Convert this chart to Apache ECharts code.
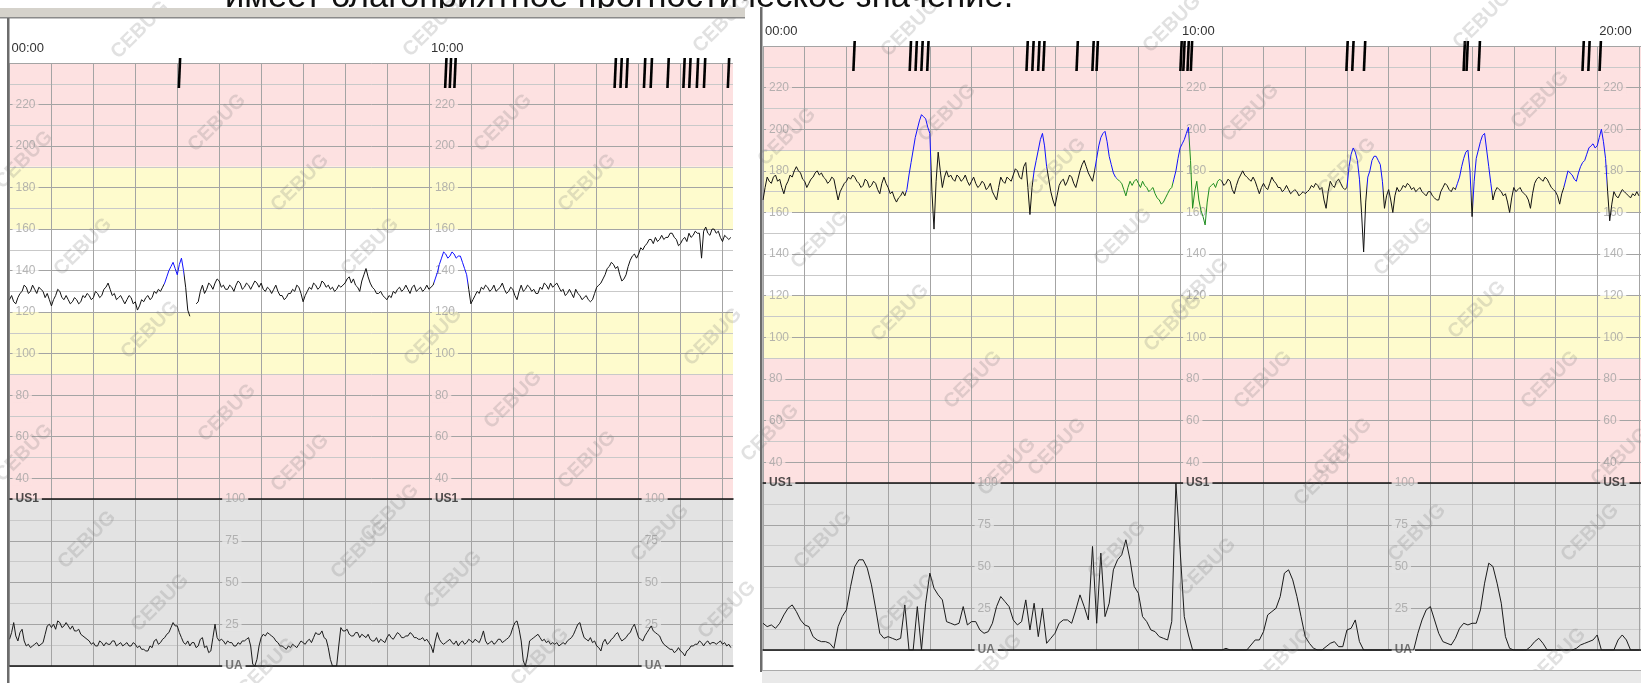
<!DOCTYPE html>
<html>
<head>
<meta charset="utf-8">
<title>CTG</title>
<script src="https://cdn.jsdelivr.net/npm/echarts@6/dist/echarts.min.js"></script>
<style>
  html, body { margin: 0; padding: 0; background: #fff; }
  #chart { width: 1641px; height: 683px; }
</style>
</head>
<body>
<div id="chart"></div>
<script>
// sampling steps, minutes
var FINE = 0.05;
var COARSE = 0.1;

// left strip: fetal heart rate (bpm), 0 .. 17.2 min, every 0.05 min
var leftFhr = [
  126,128,125,124,127,129,130,133,132,129,130,133,131,129,132,131,130,127,129,126,
  123,126,128,131,130,127,126,128,126,124,125,127,126,124,125,128,127,129,128,126,
  127,130,129,127,128,131,132,134,131,128,129,126,127,128,126,124,126,128,127,124,
  125,121,123,126,125,127,128,126,127,130,129,131,130,132,134,137,140,142,144,141,
  138,143,146,140,132,121,118,null,null,124,125,130,133,129,131,134,133,131,134,136,
  135,132,133,131,131,133,132,130,133,135,134,131,132,134,133,131,133,135,134,132,
  134,131,130,132,131,129,131,133,130,128,128,126,127,129,129,131,130,133,132,129,
  125,128,130,132,131,134,133,131,132,135,134,132,133,131,132,130,131,133,132,133,
  134,136,137,134,136,133,132,130,135,138,141,137,134,132,131,129,129,130,128,127,
  126,128,127,130,129,131,132,130,131,133,131,129,132,133,130,131,132,130,131,133,
  131,132,133,136,139,143,146,149,148,146,147,149,148,146,147,147,144,141,138,131,
  124,126,128,130,129,132,131,133,132,130,131,133,130,131,132,134,131,129,130,132,
  131,128,126,130,133,130,131,133,132,130,131,129,129,132,131,134,133,131,134,132,
  133,134,132,130,131,128,129,131,129,127,131,129,128,126,127,128,126,125,126,129,
  132,133,134,136,138,141,142,144,143,141,142,138,135,136,138,142,145,147,148,146,
  148,151,150,152,153,155,155,153,156,154,155,157,155,156,156,158,158,156,155,152,
  153,155,156,154,158,156,157,159,158,158,146,159,161,158,157,160,160,158,159,156,
  154,157,156,155,156
];
// left strip: uterine activity, 0 .. 17.2 min, every 0.05 min
var leftUa = [
  16,20,26,18,15,20,22,15,12,13,11,12,13,14,12,13,14,19,24,25,
  23,25,22,27,26,23,24,26,24,22,24,21,21,22,19,18,17,16,15,13,
  14,12,12,15,14,12,14,13,13,15,15,12,13,14,12,13,14,12,12,14,
  13,11,12,10,10,9,9,12,11,15,16,13,14,16,17,19,20,23,26,24,
  24,20,17,14,13,15,12,14,14,11,12,16,17,11,12,8,9,17,25,17,
  15,16,15,13,15,14,14,12,12,14,13,15,15,16,17,12,1,0,4,12,
  17,19,18,20,19,18,17,15,14,12,12,11,10,12,11,13,12,11,13,15,
  14,13,15,16,14,17,20,19,19,21,17,16,11,4,0,0,0,12,23,21,
  21,22,19,18,18,20,20,17,19,18,17,19,16,15,15,17,14,16,15,14,
  17,19,17,16,18,20,19,17,17,18,18,20,19,17,17,16,16,17,15,16,
  14,12,8,15,20,16,14,13,14,15,16,14,13,15,12,14,15,13,14,16,
  15,14,16,15,14,17,21,15,13,14,15,13,14,16,16,14,15,16,17,19,
  23,26,27,22,15,3,0,6,15,16,17,18,19,17,15,16,14,15,13,14,
  13,14,12,13,14,13,15,16,17,19,22,25,26,21,17,16,15,17,14,15,
  12,11,9,14,16,13,14,16,17,19,20,17,15,16,17,19,20,23,25,21,
  17,16,15,18,20,22,24,21,20,19,18,15,13,12,11,10,10,8,9,11,
  9,8,6,9,10,12,12,13,13,15,14,12,14,15,13,14,14,13,14,15,
  13,14,12,13,11
];
// right strip: fetal heart rate (bpm), 0 .. 21.0 min, every 0.05 min
var rightFhr = [
  166,172,177,175,174,177,178,175,176,172,169,173,175,178,177,180,182,180,179,176,
  175,172,174,176,177,179,180,178,179,177,176,174,175,177,176,171,166,170,172,174,
  175,177,176,178,177,175,174,172,173,176,175,172,173,175,174,171,169,174,177,174,
  172,169,170,167,165,167,168,170,168,171,178,184,190,196,200,204,207,206,205,201,
  198,170,152,175,189,180,172,177,180,177,178,176,175,178,177,175,176,178,175,173,
  175,177,174,172,173,175,174,171,172,174,170,168,166,172,177,175,174,177,176,175,
  178,181,180,177,176,182,184,172,159,172,180,185,190,195,198,192,182,176,170,166,
  163,168,173,175,176,173,175,178,177,174,172,176,180,183,185,182,179,177,175,180,
  186,192,196,198,199,194,187,183,179,177,176,175,174,171,168,172,175,173,175,176,
  174,172,175,173,172,170,171,172,169,167,166,164,165,167,169,171,172,176,180,186,
  191,193,195,198,201,185,162,170,175,166,161,158,154,165,172,173,174,172,175,176,
  175,173,174,176,175,171,169,173,176,178,180,178,177,176,175,177,175,172,169,172,
  174,172,171,174,177,175,174,172,172,170,171,173,171,169,170,171,170,168,169,170,
  169,170,171,173,172,174,173,171,172,166,162,170,175,173,172,175,176,174,172,171,
  172,182,188,191,189,185,176,160,141,165,177,180,185,187,187,185,183,175,162,168,
  171,166,160,168,172,170,171,173,172,174,173,171,172,170,171,172,170,169,168,170,
  170,168,167,166,166,170,172,174,173,171,170,172,171,174,177,182,186,189,190,180,
  158,175,186,190,194,197,198,190,182,174,166,170,172,171,170,168,169,165,160,167,
  172,170,171,172,170,169,168,166,162,169,174,176,177,176,175,177,176,174,172,171,
  170,168,164,169,172,176,180,179,178,176,175,179,182,184,185,188,191,192,193,191,
  192,196,200,194,186,170,156,164,170,168,167,169,171,170,169,168,167,169,168,170,
  168
];
// right strip: uterine activity, 0 .. 21.0 min, every 0.1 min
var rightUa = [
  16,14,15,13,16,21,25,27,23,18,
  15,14,8,6,5,5,4,1,14,20,
  24,38,50,54,54,49,39,25,10,7,
  8,7,6,7,27,0,0,26,0,28,
  46,37,33,30,17,16,15,16,26,15,
  17,17,12,10,11,16,26,32,29,26,
  18,15,17,30,12,28,8,25,4,7,
  10,16,18,18,16,24,33,26,18,62,
  16,58,20,28,48,54,57,66,54,38,
  34,20,17,12,11,8,7,6,17,100,
  60,20,9,0,0,0,0,0,0,0,
  0,1,0,0,0,0,0,3,6,6,
  11,21,23,25,32,46,48,42,32,20,
  8,4,1,0,0,2,4,5,2,2,
  12,13,18,5,0,0,0,0,0,0,
  0,0,0,0,0,0,0,10,18,24,
  26,18,10,5,4,3,7,13,16,15,
  16,16,24,40,52,50,40,28,8,1,
  0,0,0,0,2,5,7,4,0,0,
  0,0,0,0,0,1,3,4,5,6,
  9,0,0,0,0,6,9,6,0,0,
  0
];

// trace segments drawn in colour (minutes)
var leftBlue = [[3.68, 4.15], [10.12, 10.92]];
var rightBlue = [[3.44, 4.03], [6.48, 6.82], [7.95, 8.48], [9.84, 10.22], [14.0, 14.32],
                 [14.47, 14.87], [16.62, 16.97], [17.03, 17.48], [19.2, 20.23]];
var rightGreen = [[8.48, 9.84], [10.22, 10.98]];

// movement marks at the top of each strip (minutes)
var leftMarks = [4.03, 10.38, 10.49, 10.6, 14.42, 14.56, 14.7, 15.12, 15.28, 15.68,
                 16.06, 16.2, 16.38, 16.55, 17.12];
var rightMarks = [2.16, 3.51, 3.65, 3.79, 3.93, 6.31, 6.45, 6.59, 6.71, 7.51, 7.89, 7.99,
                  10.0, 10.07, 10.17, 10.25, 13.98, 14.12, 14.4, 16.79, 16.86, 17.15,
                  19.64, 19.78, 20.05];

// scale labels printed on the paper
var fhrTickLabels = [220, 200, 180, 160, 140, 120, 100, 80, 60, 40];
var uaTickLabels = [100, 75, 50, 25];
var leftFhrLabelAt = [0, 10];
var rightFhrLabelAt = [0, 10, 20];
var uaLabelAt = [5, 15];

var CAPTION = 'имеет благоприятное прогностическое значение.';

var PINK = '#fde1e1', YELLOW = '#fefbcd', WHITE = '#ffffff', UAGRAY = '#e3e3e3';
var MAJOR = '#a4a4a4', MINOR = '#c9c9c9';
var FONT = '"Liberation Sans", Arial, sans-serif';

var fhrBands = [[190, 240, PINK], [160, 190, YELLOW], [120, 160, WHITE], [90, 120, YELLOW], [30, 90, PINK]];

function bandColor(v) {
  for (var i = 0; i < fhrBands.length; i++) {
    if (v >= fhrBands[i][0] && v <= fhrBands[i][1]) return fhrBands[i][2];
  }
  return WHITE;
}

function halfBg(top, bottom) {
  if (top === bottom) return top;
  return { type: 'linear', x: 0, y: 0, x2: 0, y2: 1, colorStops: [
    { offset: 0, color: top }, { offset: 0.5, color: top },
    { offset: 0.5, color: bottom }, { offset: 1, color: bottom }] };
}

function toPairs(arr, step) {
  return arr.map(function (v, i) {
    return [Math.round(i * step * 100) / 100, v === null ? '-' : v];
  });
}

function pieces(blue, green) {
  var p = [];
  blue.forEach(function (r) { p.push({ gt: r[0], lte: r[1], color: '#1010ff' }); });
  (green || []).forEach(function (r) { p.push({ gt: r[0], lte: r[1], color: '#1e8c1e' }); });
  return p;
}

function fhrLabelData(times) {
  var d = [];
  times.forEach(function (t) {
    fhrTickLabels.forEach(function (v) {
      d.push({ name: String(v), value: [t, v],
               label: { backgroundColor: halfBg(bandColor(v + 1), bandColor(v - 1)) } });
    });
    d.push({ name: 'US1', value: [t, 30],
             label: { color: '#222', fontWeight: 'bold', backgroundColor: halfBg(PINK, UAGRAY) } });
  });
  return d;
}

function uaLabelData(times) {
  var d = [];
  times.forEach(function (t) {
    uaTickLabels.forEach(function (v) {
      d.push({ name: String(v), value: [t, v],
               label: { backgroundColor: v === 100 ? halfBg(PINK, UAGRAY) : UAGRAY } });
    });
    d.push({ name: 'UA', value: [t, 0],
             label: { color: '#555', fontWeight: 'bold', backgroundColor: halfBg(UAGRAY, WHITE) } });
  });
  return d;
}

function markRender(params, api) {
  var p = api.coord([api.value(0), api.value(1)]);
  var x = p[0], y = p[1];
  return {
    type: 'polygon',
    shape: { points: [[x + 0.3, y - 5], [x + 2.9, y - 5], [x + 1.6, y + 25], [x - 1, y + 25]] },
    style: { fill: '#000' }
  };
}

function timeLabel(v) {
  if (v % 10 !== 0) return '';
  return (v < 10 ? '0' : '') + v + ':00';
}

// strip geometry (px)
var L = { left: 9.5, width: 723.5, top: 63, fhrH: 436, uaH: 167, tMax: 17.25 };
var R = { left: 763, width: 878, top: 46, fhrH: 437, uaH: 167, tMax: 21.05 };

function grids(s) {
  return [
    { left: s.left, top: s.top, width: s.width, height: s.fhrH, containLabel: false, outerBoundsMode: 'none' },
    { left: s.left, top: s.top + s.fhrH, width: s.width, height: s.uaH, containLabel: false, outerBoundsMode: 'none' }
  ];
}

function xAxes(s, g) {
  return [
    { gridIndex: g, type: 'value', position: 'top', min: 0, max: s.tMax, interval: 1, z: 1.5,
      axisLine: { show: false }, axisTick: { show: false },
      axisLabel: { formatter: timeLabel, align: 'left', margin: 8, color: '#333', fontSize: 13,
                   fontFamily: FONT, padding: [0, 0, 0, 2] },
      splitLine: { show: true, showMaxLine: false, lineStyle: { color: MAJOR, width: 1 } } },
    { gridIndex: g, type: 'value', position: 'bottom', min: 0, max: s.tMax, z: 1.6,
      axisLine: { show: true, onZero: false, lineStyle: { color: '#111', width: 1.5 } },
      axisTick: { show: false }, axisLabel: { show: false }, splitLine: { show: false } },
    { gridIndex: g + 1, type: 'value', position: 'bottom', min: 0, max: s.tMax, interval: 1, z: 1.5,
      axisLine: { show: true, onZero: false, lineStyle: { color: '#111', width: 1.5 } },
      axisTick: { show: false }, axisLabel: { show: false },
      splitLine: { show: true, showMaxLine: false, lineStyle: { color: MAJOR, width: 1 } } }
  ];
}

function yAxes(g) {
  return [
    { gridIndex: g, type: 'value', min: 30, max: 240, interval: 10, z: 1.5,
      axisLine: { show: false }, axisTick: { show: false }, axisLabel: { show: false },
      splitLine: { show: true, lineStyle: { color: [MINOR, MAJOR], width: 1 } } },
    { gridIndex: g + 1, type: 'value', min: 0, max: 100, interval: 12.5, z: 1.5,
      axisLine: { show: false }, axisTick: { show: false }, axisLabel: { show: false },
      splitLine: { show: true, lineStyle: { color: [MAJOR, MINOR], width: 1 } } }
  ];
}

var bandAreas = fhrBands.filter(function (b) { return b[2] !== WHITE; }).map(function (b) {
  return [{ yAxis: b[0], itemStyle: { color: b[2] } }, { yAxis: b[1] }];
});

function stripSeries(fhr, ua, uaStep, marks, fhrLabelsAt, xi, yi) {
  var labelStyle = { show: true, position: 'right', distance: 3, formatter: '{b}', color: '#a2a2a2',
                     fontSize: 12, fontFamily: FONT, padding: [1, 3, 1, 3] };
  return [
    { type: 'line', xAxisIndex: xi, yAxisIndex: yi, data: toPairs(fhr, FINE), showSymbol: false, symbol: 'none',
      lineStyle: { width: 1 }, z: 2, connectNulls: false,
      markArea: { silent: true, label: { show: false }, data: bandAreas } },
    { type: 'line', xAxisIndex: xi + 2, yAxisIndex: yi + 1, data: toPairs(ua, uaStep), showSymbol: false, symbol: 'none',
      lineStyle: { width: 1, color: '#1a1a1a' }, itemStyle: { color: '#1a1a1a' }, z: 2,
      markArea: { silent: true, label: { show: false },
                  data: [[{ yAxis: 0, itemStyle: { color: UAGRAY } }, { yAxis: 100 }]] } },
    { type: 'custom', xAxisIndex: xi, yAxisIndex: yi, clip: false, z: 3, silent: true,
      data: marks.map(function (t) { return [t, 240]; }), renderItem: markRender },
    { type: 'scatter', xAxisIndex: xi, yAxisIndex: yi, symbolSize: 0, z: 1.8, silent: true,
      itemStyle: { color: 'transparent' }, label: labelStyle, data: fhrLabelData(fhrLabelsAt) },
    { type: 'scatter', xAxisIndex: xi + 2, yAxisIndex: yi + 1, symbolSize: 0, z: 1.8, silent: true,
      itemStyle: { color: 'transparent' }, label: labelStyle, data: uaLabelData(uaLabelAt) }
  ];
}

// watermark positions on the screenshot
var stamps = [
  [140, 30], [432, 28], [722, 24], [217, 123], [503, 123], [300, 183], [587, 183], [24, 160],
  [83, 247], [370, 247], [150, 330], [433, 337], [713, 337], [227, 413], [513, 400], [24, 453],
  [300, 463], [587, 460], [87, 540], [360, 550], [660, 533], [160, 603], [453, 580], [727, 610],
  [267, 667], [540, 657], [390, 513],
  [910, 28], [1172, 24], [1482, 20], [947, 113], [1250, 113], [1540, 100], [787, 137],
  [1057, 167], [1347, 167], [820, 240], [1123, 237], [1403, 247], [1200, 287], [900, 313],
  [1173, 323], [1477, 310], [973, 380], [1263, 380], [1550, 380], [770, 433], [1057, 447],
  [1343, 447], [1620, 457], [1007, 467], [1323, 477], [823, 540], [1117, 550], [1417, 533],
  [1590, 533], [1207, 567], [907, 603], [993, 663], [1283, 657], [1557, 657]
];

var graphics = [
  { type: 'text', z: 100, silent: true,
    style: { x: 225, y: 15, text: CAPTION, font: '34.5px ' + FONT, fill: '#111',
             textVerticalAlign: 'bottom', verticalAlign: 'bottom' } },
  { type: 'rect', z: 101, silent: true, shape: { x: 0, y: 8, width: 745, height: 9 }, style: { fill: '#d5d2cb' } },
  { type: 'rect', z: 101, silent: true, shape: { x: 0, y: 17, width: 745, height: 1.5 }, style: { fill: '#8a8a8a' } },
  { type: 'rect', z: 101, silent: true, shape: { x: 7, y: 18, width: 2.5, height: 665 }, style: { fill: '#6c6c6c' } },
  { type: 'rect', z: 101, silent: true, shape: { x: 760, y: 7, width: 2.5, height: 665 }, style: { fill: '#6c6c6c' } },
  { type: 'rect', z: 101, silent: true, shape: { x: 762, y: 671, width: 880, height: 12 }, style: { fill: '#e9e9e9' } },
  { type: 'rect', z: 101, silent: true, shape: { x: 762, y: 670, width: 880, height: 1 }, style: { fill: '#ababab' } }
];
stamps.forEach(function (p) {
  graphics.push({ type: 'text', z: 50, silent: true, x: p[0], y: p[1], rotation: Math.PI / 4,
    style: { text: 'CEBUG', font: 'bold 20px ' + FONT, fill: 'rgba(120,120,120,0.22)',
             textAlign: 'center', textVerticalAlign: 'middle', align: 'center', verticalAlign: 'middle' } });
});

var chart = echarts.init(document.getElementById('chart'));
chart.setOption({
  animation: false,
  backgroundColor: '#fff',
  grid: grids(L).concat(grids(R)),
  xAxis: xAxes(L, 0).concat(xAxes(R, 2)),
  yAxis: yAxes(0).concat(yAxes(2)),
  visualMap: [
    { type: 'piecewise', show: false, seriesIndex: 0, dimension: 0,
      pieces: pieces(leftBlue), outOfRange: { color: '#111' } },
    { type: 'piecewise', show: false, seriesIndex: 5, dimension: 0,
      pieces: pieces(rightBlue, rightGreen), outOfRange: { color: '#111' } }
  ],
  series: stripSeries(leftFhr, leftUa, FINE, leftMarks, leftFhrLabelAt, 0, 0)
    .concat(stripSeries(rightFhr, rightUa, COARSE, rightMarks, rightFhrLabelAt, 3, 2)),
  graphic: graphics
});
</script>
</body>
</html>
